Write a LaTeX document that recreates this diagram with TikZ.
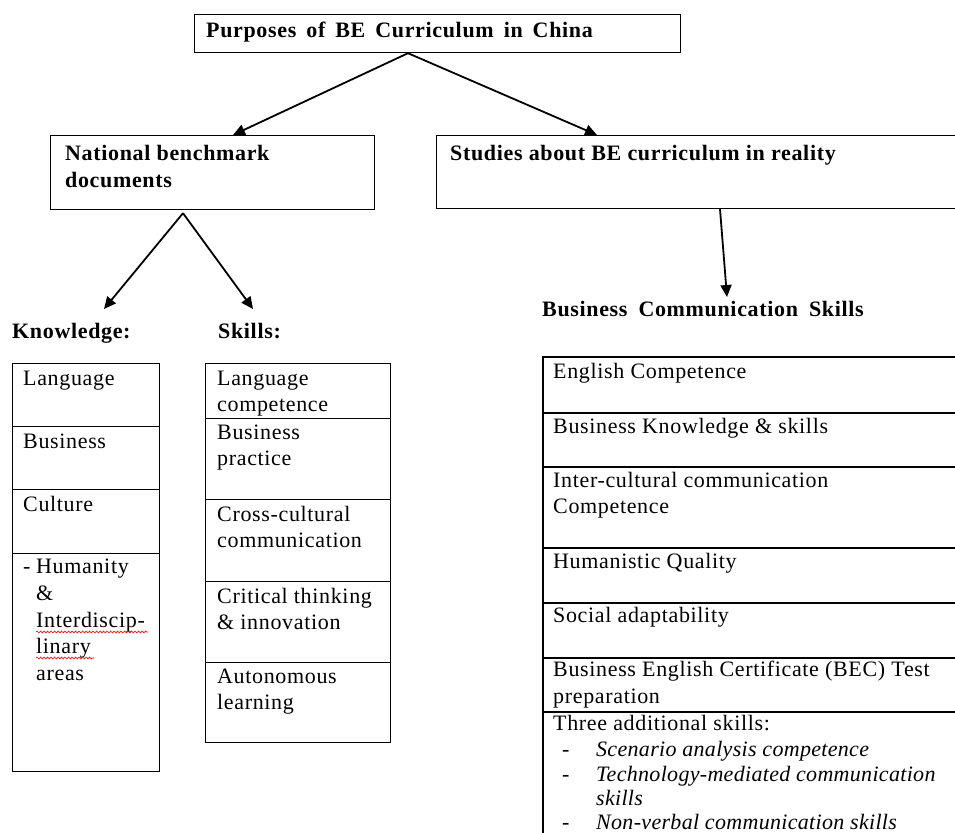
\documentclass[tikz,border=0pt]{standalone}
\usepackage{fontspec}
\setmainfont{Liberation Serif}[LetterSpace=3, ItalicFeatures={LetterSpace=1.4}]
\usetikzlibrary{arrows.meta,decorations.pathmorphing}
\begin{document}
\begin{tikzpicture}[x=1pt,y=-1pt,
  box/.style={draw, line width=1.2pt, rectangle, inner sep=0pt, anchor=north west},
  rbox/.style={box, line width=1.6pt, minimum width=430pt},
  kbox/.style={box, minimum width=147pt},
  sbox/.style={box, minimum width=185pt},
  txt/.style={anchor=base west, inner sep=0pt, font=\fontsize{22}{26}\selectfont},
  btxt/.style={anchor=base west, inner sep=0pt, font=\fontsize{22}{26}\selectfont\bfseries},
  itxt/.style={anchor=base west, inner sep=0pt, font=\fontsize{22}{26}\selectfont\itshape},
  arr/.style={-{Triangle[length=12pt,width=11pt]}, line width=1.8pt},
  spell/.style={red, line width=0.6pt, decorate, decoration={snake, amplitude=1pt, segment length=3.5pt}},
]
\useasboundingbox (0,0) rectangle (955,832);

% top level
\node[box, minimum width=486pt, minimum height=38pt] (top) at (194,14) {};
\node[btxt] (ttop) at (206,38) {\spaceskip=10pt plus 1pt Purposes of BE Curriculum in China};

\node[box, minimum width=324pt, minimum height=74pt] (nat) at (50,135) {};
\node[btxt] (tnat1) at (65,160) {National benchmark};
\node[btxt] (tnat2) at (65,187) {documents};

\node[box, minimum width=530pt, minimum height=73pt] (stu) at (436,135) {};
\node[btxt] (tstu) at (450,160) {Studies about BE curriculum in reality};

\draw[arr] ([xshift=214pt]top.south west) -- ([xshift=183pt]nat.north west);
\draw[arr] ([xshift=214pt]top.south west) -- ([xshift=161pt]stu.north west);

% second level labels
\node[btxt] (klab) at (12,338) {Knowledge:};
\node[btxt] (slab) at (218,338) {Skills:};
\node[btxt] (blab) at (542,316) {\spaceskip=11pt plus 1pt Business Communication Skills};

\coordinate (kt) at (104,309);
\coordinate (st) at (253,309);
\coordinate (bt) at (727,297);
\draw[arr] ([xshift=133pt,yshift=-3pt]nat.south west) -- (kt);
\draw[arr] ([xshift=133pt,yshift=-3pt]nat.south west) -- (st);
\draw[arr] ([xshift=284pt]stu.south west) -- (bt);

% Knowledge column
\node[kbox, minimum height=63pt] (k1) at (12,363) {};
\node[kbox, minimum height=63pt] (k2) at (12,426) {};
\node[kbox, minimum height=64pt] (k3) at (12,489) {};
\node[kbox, minimum height=218pt] (k4) at (12,553) {};
\node[txt] (tk1) at (23,385) {Language};
\node[txt] (tk2) at (23,448) {Business};
\node[txt] (tk3) at (23,511) {Culture};
\node[txt] (tk4a) at (23,573) {-};
\node[txt] (tk4b) at (36,573) {Humanity};
\node[txt] (tk4c) at (36,600) {\&};
\node[txt] (tk4d) at (36,627) {Interdiscip-};
\node[txt] (tk4e) at (36,653) {linary};
\node[txt] (tk4f) at (36,680) {areas};
\draw[spell] (36,632) -- (148,632);
\draw[spell] (36,658) -- (94,658);

% Skills column
\node[sbox, minimum height=55pt] (s1) at (205,363) {};
\node[sbox, minimum height=81pt] (s2) at (205,418) {};
\node[sbox, minimum height=82pt] (s3) at (205,499) {};
\node[sbox, minimum height=81pt] (s4) at (205,581) {};
\node[sbox, minimum height=80pt] (s5) at (205,662) {};
\node[txt] (ts1a) at (217,385) {Language};
\node[txt] (ts1b) at (217,411) {competence};
\node[txt] (ts2a) at (217,439) {Business};
\node[txt] (ts2b) at (217,465) {practice};
\node[txt] (ts3a) at (217,521) {Cross-cultural};
\node[txt] (ts3b) at (217,547) {communication};
\node[txt] (ts4a) at (217,603) {Critical thinking};
\node[txt] (ts4b) at (217,629) {\& innovation};
\node[txt] (ts5a) at (217,683) {Autonomous};
\node[txt] (ts5b) at (217,709) {learning};

% Business communication column
\node[rbox, minimum height=56pt] (r1) at (542,356) {};
\node[rbox, minimum height=54pt] (r2) at (542,412) {};
\node[rbox, minimum height=81pt] (r3) at (542,466) {};
\node[rbox, minimum height=55pt] (r4) at (542,547) {};
\node[rbox, minimum height=55pt] (r5) at (542,602) {};
\node[rbox, minimum height=54pt] (r6) at (542,657) {};
\node[rbox, minimum height=140pt] (r7) at (542,711) {};
\node[txt] (tr1) at (553,378) {English Competence};
\node[txt] (tr2) at (553,433) {Business Knowledge \& skills};
\node[txt] (tr3a) at (553,487) {Inter-cultural communication};
\node[txt] (tr3b) at (553,513) {Competence};
\node[txt] (tr4) at (553,568) {Humanistic Quality};
\node[txt] (tr5) at (553,622) {Social adaptability};
\node[txt] (tr6a) at (553,676) {Business English Certificate (BEC) Test};
\node[txt] (tr6b) at (553,703) {preparation};
\node[txt] (tr7) at (553,730) {Three additional skills:};
\node[txt] (d1) at (562,756) {-};
\node[itxt] (i1) at (596,756) {Scenario analysis competence};
\node[txt] (d2) at (562,781) {-};
\node[itxt] (i2) at (596,781) {Technology-mediated communication};
\node[itxt] (i2b) at (596,805) {skills};
\node[txt] (d3) at (562,829) {-};
\node[itxt] (i3) at (596,829) {Non-verbal communication skills};
\end{tikzpicture}
\end{document}
